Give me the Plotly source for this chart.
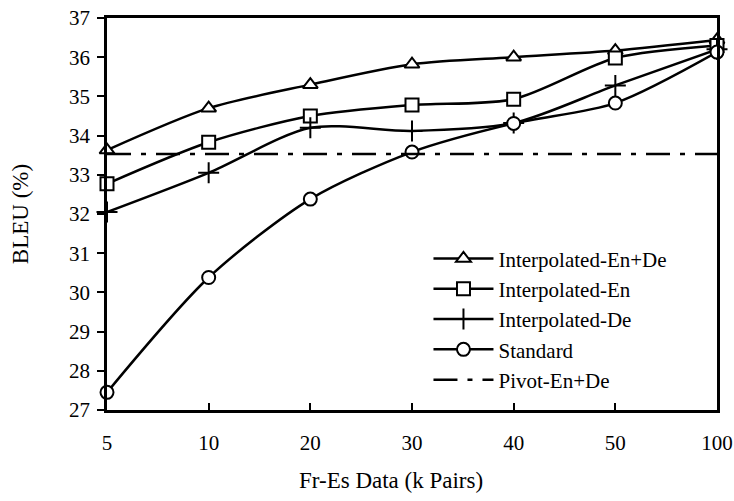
import plotly.graph_objects as go

categories = ["5", "10", "20", "30", "40", "50", "100"]
interp_en_de = [33.63, 34.70, 35.30, 35.82, 36.00, 36.17, 36.44]
interp_en = [32.77, 33.83, 34.50, 34.78, 34.93, 35.98, 36.30]
interp_de = [32.05, 33.05, 34.20, 34.12, 34.32, 35.28, 36.20]
standard = [27.45, 30.38, 32.38, 33.58, 34.31, 34.83, 36.13]
pivot_en_de = [33.53] * 7

series = [
    ("Interpolated-En+De", interp_en_de, "triangle-up"),
    ("Interpolated-En", interp_en, "square"),
    ("Interpolated-De", interp_de, "cross-thin"),
    ("Standard", standard, "circle"),
]

FONT = "Liberation Serif"

fig = go.Figure()
for name, vals, sym in series:
    marker = dict(symbol=sym, size=13, color="white", line=dict(color="black", width=2))
    if sym == "cross-thin":
        marker = dict(symbol="cross-thin-open", size=15, color="black", line=dict(color="black", width=2))
    fig.add_trace(go.Scatter(
        x=categories, y=vals, name=name, mode="lines+markers",
        line=dict(color="black", width=2.5, shape="spline", smoothing=0.8),
        marker=marker, cliponaxis=False,
    ))
fig.add_trace(go.Scatter(
    x=categories, y=pivot_en_de, name="Pivot-En+De", mode="lines",
    line=dict(color="black", width=2.5, dash="24px,10px,5px,10px"),
    cliponaxis=False,
))

fig.update_layout(
    width=734, height=501,
    margin=dict(l=107, r=17, t=18, b=91, autoexpand=False),
    paper_bgcolor="white", plot_bgcolor="white",
    font=dict(family=FONT, size=21, color="black"),
    showlegend=True,
    legend=dict(x=0.527, y=0.438, xanchor="left", yanchor="top",
                bgcolor="rgba(0,0,0,0)", font=dict(family=FONT, size=21),
                itemwidth=60, tracegroupgap=0),
    xaxis=dict(type="category", range=[0, 6], showline=True, linecolor="black", linewidth=2.5,
               mirror=True, ticks="inside", ticklen=7, tickwidth=1.5, tickcolor="black",
               showgrid=False, zeroline=False, ticklabelstandoff=12, automargin=False,
               ticklabeloverflow="allow",
               tickfont=dict(family=FONT, size=21)),
    yaxis=dict(range=[27, 37], dtick=1, showline=True, linecolor="black", linewidth=2.5,
               mirror=True, ticks="outside", ticklen=7, tickwidth=1.5, tickcolor="black",
               showgrid=False, zeroline=False, ticklabelstandoff=3, automargin=False,
               ticklabeloverflow="allow",
               tickfont=dict(family=FONT, size=21),
               title=dict(text="BLEU (%)", standoff=34, font=dict(family=FONT, size=23))),
    annotations=[dict(text="Fr-Es Data (k Pairs)", xref="paper", yref="paper",
                      x=0.466, y=-0.1811, xanchor="center", yanchor="middle",
                      showarrow=False, font=dict(family=FONT, size=23))],
)

fig.write_html(
    "out.html",
    config={"displayModeBar": False},
    post_script="document.body.style.margin='0px';document.body.style.overflow='hidden';",
)
